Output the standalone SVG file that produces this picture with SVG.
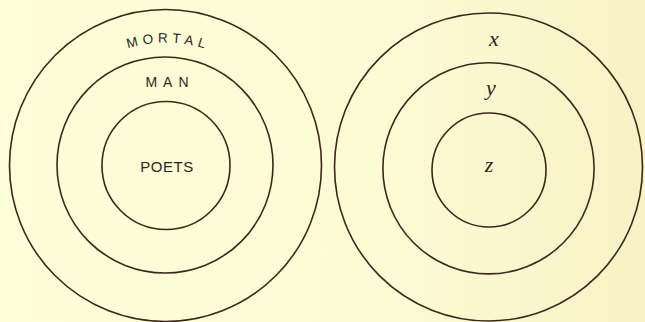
<svg xmlns="http://www.w3.org/2000/svg" width="645" height="322" viewBox="0 0 645 322">
  <defs>
    <linearGradient id="bg" x1="0" y1="0" x2="1" y2="0">
      <stop offset="0" stop-color="#fdfdd8"/>
      <stop offset="0.6" stop-color="#fcfbd4"/>
      <stop offset="1" stop-color="#f8f2c6"/>
    </linearGradient>
    <path id="mortalArc" d="M 43 165.5 A 123 123 0 0 1 289 165.5"/>
    <style>
      .ring { fill: none; stroke: #3b2818; stroke-width: 1.6; }
      .caps { font-family: "Liberation Sans", Arial, sans-serif; fill: #2e2620; text-anchor: middle; }
      .var { font-family: "Liberation Serif", "Times New Roman", serif; font-style: italic; fill: #2e2620; text-anchor: middle; font-size: 22px; }
    </style>
  </defs>
  <rect x="0" y="0" width="645" height="322" fill="url(#bg)"/>

  <g id="left-diagram">
    <g id="mortal">
      <circle class="ring" cx="165.5" cy="165.5" r="156"/>
      <text class="caps" font-size="13.5" letter-spacing="4.5"><textPath href="#mortalArc" startOffset="50.6%">MORTAL</textPath></text>
    </g>
    <g id="man">
      <circle class="ring" cx="165" cy="165" r="108"/>
      <text class="caps" x="170" y="87" font-size="14" letter-spacing="6">MAN</text>
    </g>
    <g id="poets">
      <circle class="ring" cx="166" cy="165.5" r="64"/>
      <text class="caps" x="167" y="172" font-size="15" letter-spacing="0.5">POETS</text>
    </g>
  </g>

  <g id="right-diagram">
    <g id="x">
      <circle class="ring" cx="488.5" cy="167" r="154"/>
      <text class="var" x="494" y="46">x</text>
    </g>
    <g id="y">
      <circle class="ring" cx="488.5" cy="168.3" r="105.6"/>
      <text class="var" x="491" y="95">y</text>
    </g>
    <g id="z">
      <circle class="ring" cx="489" cy="170" r="57"/>
      <text class="var" x="489" y="172">z</text>
    </g>
  </g>

  <g id="connectors"/>
</svg>
